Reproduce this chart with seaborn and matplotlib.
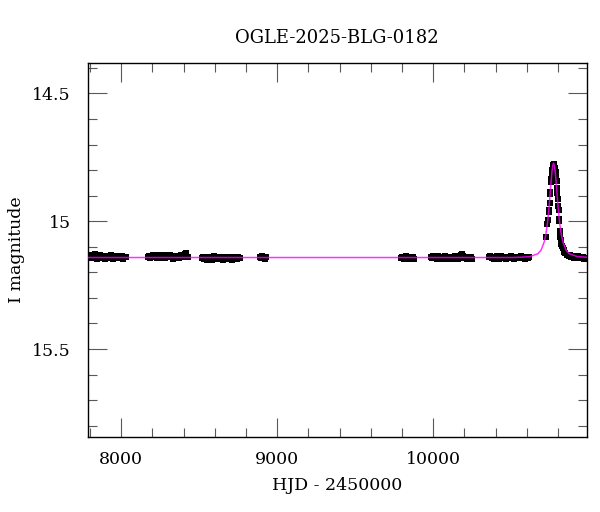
import matplotlib
matplotlib.use("Agg")
import matplotlib.pyplot as plt
from matplotlib.ticker import MultipleLocator, FormatStrFormatter
import seaborn as sns
import pandas as pd

# OGLE photometry (HJD - 2450000, I mag)
t1 = [7792, 7800, 7807, 7815, 7822, 7830, 7838, 7846, 7854, 7862, 7870, 7878, 7886, 7894, 7902, 7910,
      7918, 7926, 7934, 7942, 7950, 7958, 7966, 7974, 7982, 7990, 7998, 8006, 8014, 8022, 8030]
m1 = [15.136, 15.141, 15.133, 15.145, 15.139, 15.128, 15.137, 15.146, 15.140, 15.131, 15.143, 15.138,
      15.135, 15.148, 15.141, 15.136, 15.144, 15.139, 15.133, 15.142, 15.147, 15.138, 15.141, 15.136,
      15.145, 15.140, 15.143, 15.137, 15.146, 15.141, 15.139]

t2 = [8170, 8178, 8186, 8194, 8202, 8210, 8218, 8226, 8234, 8242, 8250, 8258, 8266, 8274, 8282, 8290,
      8298, 8306, 8314, 8322, 8330, 8338, 8346, 8354, 8362, 8370, 8378, 8386, 8394, 8402, 8410, 8418, 8426]
m2 = [15.140, 15.135, 15.143, 15.138, 15.132, 15.141, 15.137, 15.144, 15.139, 15.131, 15.136, 15.142,
      15.138, 15.134, 15.145, 15.140, 15.136, 15.141, 15.133, 15.139, 15.146, 15.137, 15.142, 15.135,
      15.140, 15.144, 15.138, 15.133, 15.141, 15.136, 15.129, 15.125, 15.139]

t3 = [8515, 8523, 8531, 8539, 8547, 8555, 8563, 8571, 8579, 8587, 8595, 8603, 8611, 8619, 8627, 8635,
      8643, 8651, 8659, 8667, 8675, 8683, 8691, 8699, 8707, 8715, 8723, 8731, 8739, 8747, 8755, 8762]
m3 = [15.142, 15.138, 15.147, 15.143, 15.150, 15.139, 15.145, 15.141, 15.152, 15.144, 15.137, 15.146,
      15.141, 15.149, 15.143, 15.138, 15.145, 15.151, 15.140, 15.146, 15.142, 15.148, 15.139, 15.144,
      15.153, 15.141, 15.146, 15.142, 15.149, 15.140, 15.145, 15.143]

t4 = [8888, 8896, 8904, 8912, 8920, 8928]
m4 = [15.139, 15.144, 15.136, 15.142, 15.147, 15.140]

t5 = [9792, 9800, 9808, 9816, 9824, 9832, 9840, 9848, 9856, 9864, 9872, 9878]
m5 = [15.145, 15.138, 15.142, 15.149, 15.136, 15.143, 15.140, 15.147, 15.139, 15.144, 15.141, 15.146]

t6 = [9985, 9993, 10001, 10009, 10017, 10025, 10033, 10041, 10049, 10057, 10065, 10073, 10081, 10089,
      10097, 10105, 10113, 10121, 10129, 10137, 10145, 10153, 10161, 10169, 10177, 10185, 10193, 10201,
      10209, 10217, 10225, 10233, 10241, 10250]
m6 = [15.138, 15.142, 15.135, 15.144, 15.140, 15.146, 15.137, 15.143, 15.139, 15.148, 15.141, 15.136,
      15.145, 15.140, 15.147, 15.138, 15.143, 15.149, 15.141, 15.136, 15.144, 15.139, 15.146, 15.142,
      15.133, 15.128, 15.137, 15.145, 15.140, 15.147, 15.138, 15.143, 15.141, 15.146]

t7 = [10358, 10366, 10374, 10382, 10390, 10398, 10406, 10414, 10422, 10430, 10438, 10446, 10454, 10462,
      10470, 10478, 10486, 10494, 10502, 10510, 10518, 10526, 10534, 10542, 10550, 10558, 10566, 10574,
      10582, 10590, 10598, 10606, 10615]
m7 = [15.141, 15.136, 15.144, 15.139, 15.146, 15.142, 15.137, 15.143, 15.148, 15.140, 15.135, 15.145,
      15.141, 15.138, 15.147, 15.143, 15.139, 15.144, 15.137, 15.142, 15.149, 15.140, 15.145, 15.138,
      15.143, 15.141, 15.136, 15.144, 15.140, 15.147, 15.139, 15.143, 15.141]

# event season
t8 = [10721, 10731, 10733, 10741, 10743, 10747, 10750, 10752, 10756, 10758, 10760, 10763, 10766, 10769,
      10772, 10775, 10779, 10783, 10786, 10789, 10791, 10794, 10796, 10799, 10802, 10804, 10807, 10809,
      10812, 10815, 10818, 10822, 10826, 10831, 10836, 10842, 10848, 10855, 10862, 10870, 10878, 10886,
      10894, 10902, 10910, 10918, 10926, 10934, 10942, 10950, 10958, 10966, 10974]
m8 = [15.061, 15.010, 14.995, 14.965, 14.955, 14.930, 14.895, 14.885, 14.848, 14.835, 14.812, 14.800,
      14.787, 14.780, 14.778, 14.783, 14.790, 14.797, 14.806, 14.830, 14.843, 14.870, 14.888, 14.915,
      14.940, 14.955, 14.990, 15.000, 15.040, 15.060, 15.075, 15.088, 15.098, 15.106, 15.114, 15.120,
      15.126, 15.131, 15.132, 15.137, 15.134, 15.140, 15.137, 15.143, 15.139, 15.142, 15.137, 15.145,
      15.141, 15.144, 15.139, 15.146, 15.142]

mag_err = 0.005

# model curve
model_t = [7780, 10500, 10572, 10622, 10672, 10692, 10712, 10722, 10732, 10737, 10742, 10747, 10752,
           10757, 10762, 10767, 10772, 10777, 10782, 10787, 10792, 10797, 10802, 10807, 10812, 10822,
           10832, 10852, 10872, 10922, 10972, 10990]
model_m = [15.142, 15.142, 15.1405, 15.138, 15.127, 15.113, 15.081, 15.053, 15.011, 14.983, 14.951,
           14.915, 14.876, 14.838, 14.804, 14.781, 14.773, 14.781, 14.804, 14.838, 14.876, 14.915,
           14.951, 14.983, 15.011, 15.053, 15.081, 15.113, 15.127, 15.138, 15.1405, 15.141]

df = pd.DataFrame({"hjd": t1 + t2 + t3 + t4 + t5 + t6 + t7 + t8,
                   "mag": m1 + m2 + m3 + m4 + m5 + m6 + m7 + m8})
model = pd.DataFrame({"hjd": model_t, "mag": model_m})

sns.set_style("ticks")
plt.rcParams["font.family"] = ["DejaVu Serif"]
plt.rcParams["text.color"] = "black"
plt.rcParams["axes.labelcolor"] = "black"

fig = plt.figure(figsize=(6, 5.12), dpi=100)
ax = fig.add_axes([0.146, 0.147, 0.832, 0.7305])

ax.errorbar(df["hjd"], df["mag"], yerr=mag_err, fmt="none", ecolor="black", elinewidth=1.0, zorder=2)
sns.scatterplot(data=df, x="hjd", y="mag", marker="s", s=20, color="black", linewidth=0, ax=ax, zorder=3)
sns.lineplot(data=model, x="hjd", y="mag", color="#ff00ff", lw=1.1, alpha=0.8, ax=ax, zorder=4)

ax.set_xlim(7784, 10985)
ax.set_ylim(15.843, 14.38)

ax.xaxis.set_major_locator(MultipleLocator(1000))
ax.xaxis.set_minor_locator(MultipleLocator(200))
ax.yaxis.set_major_locator(MultipleLocator(0.5))
ax.yaxis.set_minor_locator(MultipleLocator(0.1))
ax.yaxis.set_major_formatter(FormatStrFormatter("%g"))

ax.tick_params(which="both", direction="in", top=True, right=True, color="0.35", width=0.8,
               labelsize=12.5, labelcolor="black")
ax.tick_params(which="major", length=13.5)
ax.tick_params(which="minor", length=6.5)
ax.tick_params(axis="x", pad=10)
ax.tick_params(axis="y", pad=12)
for sp in ax.spines.values():
    sp.set_linewidth(1.0)
    sp.set_color("black")

ax.set_xlabel("HJD - 2450000", fontsize=12.5, labelpad=7)
ax.set_ylabel("I magnitude", fontsize=12.5, labelpad=5)
ax.set_title("OGLE-2025-BLG-0182", fontsize=13, pad=14)

plt.savefig("out.png", dpi=100)
